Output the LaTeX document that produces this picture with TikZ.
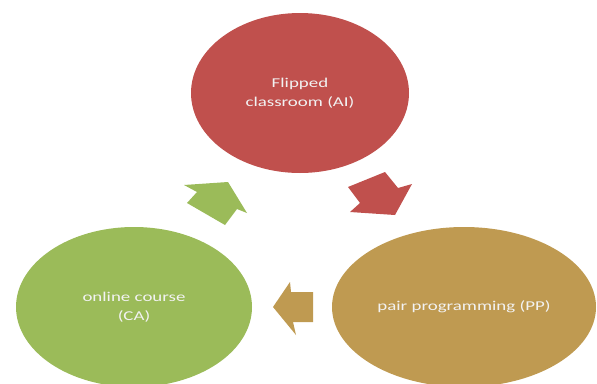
\documentclass[tikz,border=0pt]{standalone}
\usepackage{fontspec}
\usetikzlibrary{shapes.geometric}
\newfontfamily\widefont[FakeStretch=1.4]{Carlito}
\definecolor{cred}{HTML}{C0504D}
\definecolor{cgreen}{HTML}{9BBB59}
\definecolor{ctan}{HTML}{BF9A51}
\definecolor{ctext}{HTML}{F2F2F2}
\tikzset{
  blob/.style={ellipse, inner sep=0pt, text=ctext, align=center,
    font=\widefont\fontsize{13.5}{19}\selectfont},
}
\begin{document}
\begin{tikzpicture}[x=1pt,y=-1pt]
\useasboundingbox (0,0) rectangle (597,383);
\clip (0,0) rectangle (597,383);
\node[blob, fill=cred, minimum width=218pt, minimum height=160pt] (ai) at (300,93) {Flipped\\classroom (AI)};
\node[blob, fill=cgreen, minimum width=236pt, minimum height=160pt] (ca) at (134,307) {online course\\(CA)};
\node[blob, fill=ctan, minimum width=264pt, minimum height=160pt] (pp) at (464,307) {pair programming (PP)};
% block arrows
\fill[cgreen] (197,192) -- (184,185) -- (228,182) -- (247,213) -- (237,209) -- (225,225) -- (187,203) -- cycle;
\fill[cred] (348,187) -- (385,172) -- (398,188) -- (412,184) -- (395,215) -- (350,212) -- (360,203) -- cycle;
\fill[ctan] (273,307) -- (290,282) -- (291,292) -- (313,292) -- (313,322) -- (293,322) -- (296,335) -- cycle;
\end{tikzpicture}
\end{document}
